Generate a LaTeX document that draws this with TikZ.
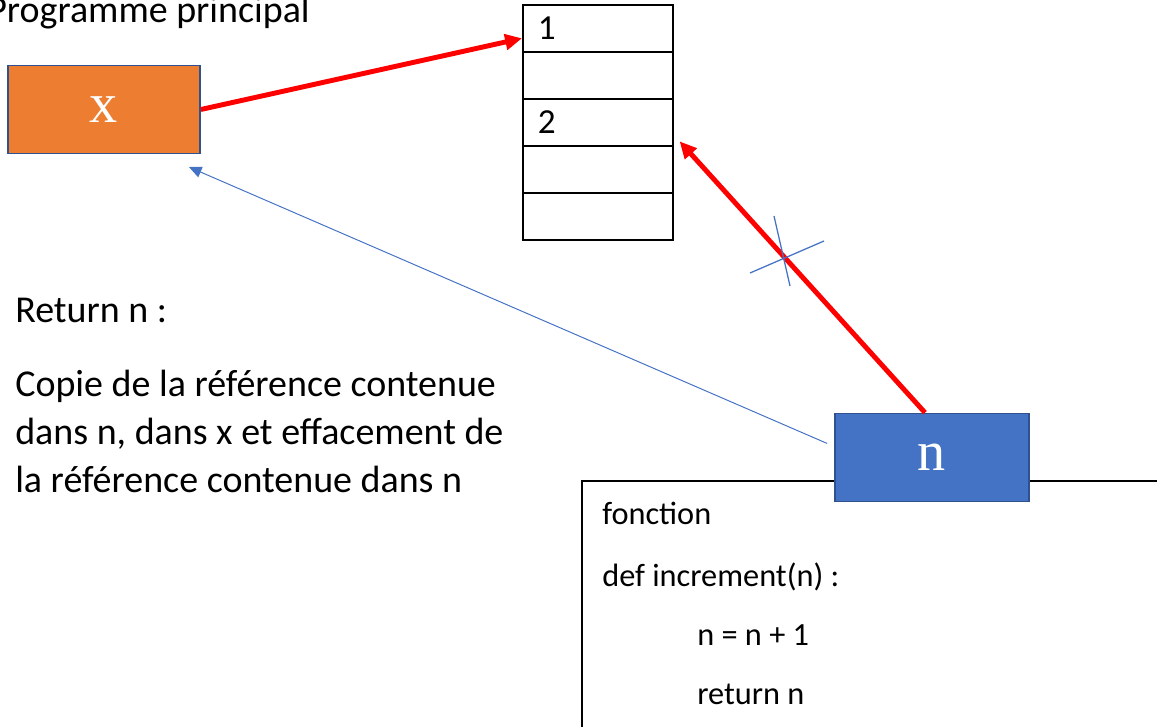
\documentclass[tikz,border=0pt]{standalone}
\usepackage{fontspec}
\setmainfont{Carlito}
\newfontfamily\boxfont{Liberation Serif}
\usetikzlibrary{arrows.meta}

\definecolor{orangebox}{HTML}{ED7D31}
\definecolor{bluebox}{HTML}{4472C4}
\definecolor{borderblue}{HTML}{2F528F}

\begin{document}
\begin{tikzpicture}[
    x=0.025cm, y=-0.025cm,
    txt/.style={inner sep=0pt, font=\fontsize{27}{34}\selectfont},
    code/.style={inner sep=0pt, anchor=base west, font=\fontsize{23}{28}\selectfont},
    var/.style={rectangle, draw=borderblue, line width=1.2pt, text=white,
        minimum width=4.8cm, minimum height=2.2cm,
        font=\boxfont\fontsize{40}{40}\selectfont},
    cell/.style={rectangle, draw, line width=1.4pt, minimum height=1.175cm,
        text width=3.0cm, inner xsep=0.375cm, inner ysep=0pt, align=left,
        font=\fontsize{25}{30}\selectfont},
    ref/.style={-{Triangle[length=12pt, width=11pt]}, red, line width=3.5pt},
    back/.style={-{Triangle[length=9pt, width=8pt]}, bluebox, line width=0.7pt}
]
    \useasboundingbox (0,0) rectangle (1157,727);

    % Programme principal
    \node[txt, anchor=base east] (titre) at (310,23) {Programme principal};
    \node[var, fill=orangebox] (xbox) at (104,109.5) {x};

    % Memoire
    \node[cell] (c1) at (598,28.5) {1};
    \node[cell] (c2) at (598,75.5) {};
    \node[cell] (c3) at (598,122.5) {2};
    \node[cell] (c4) at (598,169.5) {};
    \node[cell] (c5) at (598,216.5) {};

    % Texte
    \node[txt, anchor=base west] (ret) at (15,323) {Return n :};
    \node[txt, anchor=base west, align=left] (copie) at (15,492)
        {Copie de la référence contenue\\dans n, dans x et effacement de\\la référence contenue dans n};

    % Fonction
    \draw[line width=1.2pt] (582,735) -- (582,481) -- (1165,481);
    \node[code] (l1) at (602,524) {fonction};
    \node[code] (l2) at (602,586) {def increment(n) :};
    \node[code] (l3) at (697,645) {n = n + 1};
    \node[code] (l4) at (697,704) {return n};
    \node[var, fill=bluebox, minimum width=4.85cm] (nbox) at (932,457.5) {n};

    % Fleches
    \draw[ref] (xbox.east) -- ([yshift=-7pt]c1.west);
    \draw[ref] ([xshift=-5pt]nbox.north) -- ([xshift=4pt,yshift=4pt]c3.south east);
    \draw[back] ([xshift=-5pt,yshift=10pt]nbox.west) -- ([xshift=-8.5pt,yshift=-9pt]xbox.south east);

    % Reference effacee
    \draw[bluebox, line width=0.9pt] (750,273) -- (824,241);
    \draw[bluebox, line width=0.9pt] (774,216) -- (790,286);
\end{tikzpicture}
\end{document}
